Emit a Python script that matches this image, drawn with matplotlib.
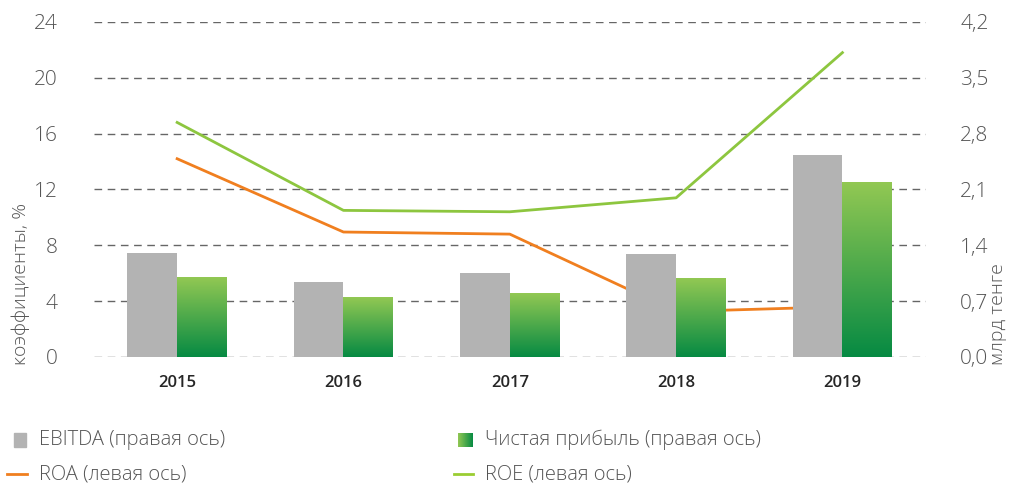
import numpy as np
import matplotlib
matplotlib.use("Agg")
import matplotlib.pyplot as plt
from matplotlib.colors import LinearSegmentedColormap
from matplotlib.patches import Rectangle

plt.rcParams['font.family'] = ['Open Sans', 'DejaVu Sans']

years = ['2015', '2016', '2017', '2018', '2019']
ebitda = [1.30, 0.94, 1.05, 1.29, 2.53]      # млрд тенге
profit = [1.00, 0.75, 0.80, 0.98, 2.19]      # млрд тенге
roa = [14.2, 8.95, 8.8, 3.25, 3.6]           # %
roe = [16.8, 10.5, 10.4, 11.4, 21.8]         # %

gray = '#b3b3b3'
orange = '#f07f1f'
lime = '#8dc63f'
green_cmap = LinearSegmentedColormap.from_list('g', ['#068a43', '#92c853'])
txt = '#555555'

fig = plt.figure(figsize=(10.16, 4.87), dpi=100)
ax = fig.add_axes([0.0925, 0.267, 0.8185, 0.688])
ax2 = ax.twinx()

x = np.arange(len(years))
w = 0.3

# lines (left axis) - behind the bars
ax.plot(x, roa, color=orange, lw=2, zorder=3)
ax.plot(x, roe, color=lime, lw=2, zorder=3)

# bars (right axis)
ax2.bar(x - w / 2, ebitda, width=w, color=gray, zorder=2)
grad = np.linspace(0, 1, 256).reshape(-1, 1)
for xi, v in zip(x, profit):
    ax2.imshow(grad, cmap=green_cmap, origin='lower', aspect='auto',
               extent=[xi, xi + w, 0, v], zorder=2)

ax.set_xlim(-0.5, 4.5)
ax2.set_xlim(-0.5, 4.5)
ax.set_ylim(0, 24)
ax2.set_ylim(0, 4.2)
ax.set_yticks(np.arange(0, 25, 4))
ax2.set_yticks(np.arange(0, 4.3, 0.7))
ax2.set_yticklabels([f'{v:.1f}'.replace('.', ',') for v in np.arange(0, 4.3, 0.7)])
ax.set_xticks(x)
ax.set_xticklabels(years, fontsize=12, fontweight='semibold', color='#262626')

ax.yaxis.grid(True, color='#666666', linestyle=(0, (5.5, 4)), lw=1)
ax.set_axisbelow(True)

for a in (ax, ax2):
    for s in a.spines.values():
        s.set_visible(False)
    a.tick_params(length=0)
ax.tick_params(axis='y', labelsize=15, labelcolor=txt, pad=26)
ax2.tick_params(axis='y', labelsize=15, labelcolor=txt, pad=25)
ax.tick_params(axis='x', pad=13)
for lab in ax.get_yticklabels() + ax2.get_yticklabels():
    lab.set_fontweight('light')

fig.text(0.02, 0.25, 'коэффициенты, %', rotation=90, fontsize=14, color=txt,
         ha='center', va='bottom', fontweight='light')
fig.text(0.982, 0.25, 'млрд тенге', rotation=90, fontsize=14, color=txt,
         ha='center', va='bottom', fontweight='light')

# legend
def leg_text(xf, yf, s):
    fig.text(xf, yf, s, fontsize=14.5, color=txt, va='center', ha='left',
             fontweight='light')

fig.patches.append(Rectangle((14 / 1016, 1 - 447 / 487), 12 / 1016, 14 / 487,
                             transform=fig.transFigure, color=gray))
leg_text(39 / 1016, 1 - 440 / 487, 'EBITDA (правая ось)')
lax = fig.add_axes([458 / 1016, 1 - 447 / 487, 15 / 1016, 14 / 487])
lax.imshow(grad.T, cmap=green_cmap.reversed(), aspect='auto')
lax.axis('off')
leg_text(485 / 1016, 1 - 440 / 487, 'Чистая прибыль (правая ось)')
fig.lines.append(plt.Line2D([7 / 1016, 27 / 1016], [1 - 474 / 487] * 2, color=orange,
                            lw=2, transform=fig.transFigure))
leg_text(39 / 1016, 1 - 474 / 487, 'ROA (левая ось)')
fig.lines.append(plt.Line2D([454 / 1016, 473 / 1016], [1 - 474 / 487] * 2, color='#9acd32',
                            lw=2, transform=fig.transFigure))
leg_text(485 / 1016, 1 - 474 / 487, 'ROE (левая ось)')

fig.savefig('out.png', dpi=100)
